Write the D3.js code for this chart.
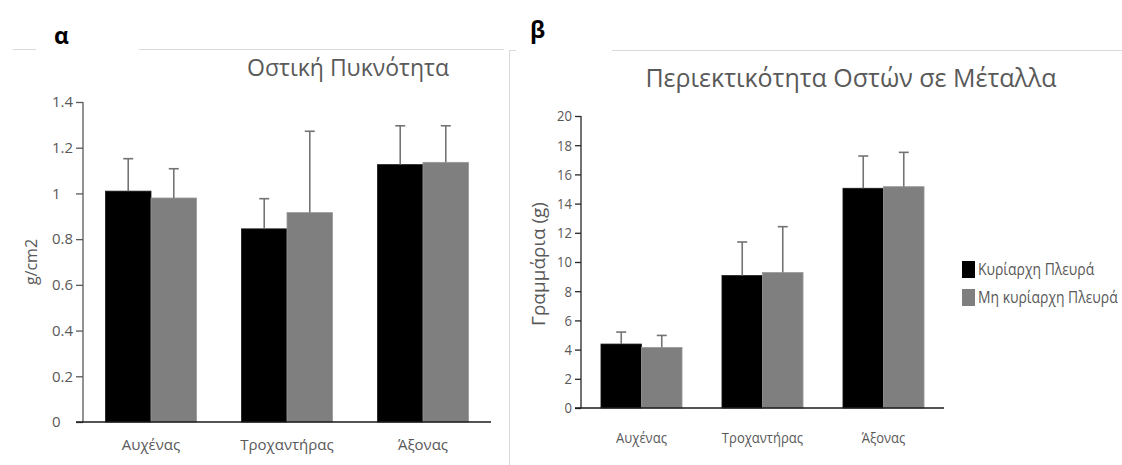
<!DOCTYPE html>
<html>
<head>
<meta charset="utf-8">
<script src="https://cdn.jsdelivr.net/npm/d3@7"></script>
<style>
  html, body { margin: 0; padding: 0; background: #fff; }
  svg { display: block; }
  text { font-family: "Open Sans", "DejaVu Sans", sans-serif; }
</style>
</head>
<body>
<svg id="chart" width="1122" height="465"></svg>
<script>
// Categories and series
const categories = ["Αυχένας", "Τροχαντήρας", "Άξονας"];
const seriesNames = ["Κυρίαρχη Πλευρά", "Μη κυρίαρχη Πλευρά"];

// Bone density (g/cm2): mean and upper error
const densityDominant = [1.01, 0.845, 1.126];
const densityDominantErr = [0.142, 0.132, 0.170];
const densityNonDominant = [0.98, 0.916, 1.136];
const densityNonDominantErr = [0.128, 0.356, 0.160];
const densityTicks = [0, 0.2, 0.4, 0.6, 0.8, 1, 1.2, 1.4];

// Bone mineral content (g): mean and upper error
const mineralDominant = [4.38, 9.07, 15.05];
const mineralDominantErr = [0.82, 2.30, 2.21];
const mineralNonDominant = [4.15, 9.28, 15.16];
const mineralNonDominantErr = [0.82, 3.14, 2.35];
const mineralTicks = [0, 2, 4, 6, 8, 10, 12, 14, 16, 18, 20];

const colors = ["#000000", "#7f7f7f"];
const textColor = "#595959";
const svg = d3.select("#chart");

// Panel frames and panel letters
const frame = svg.append("g").attr("stroke", "#d9d9d9").attr("stroke-width", 1).attr("fill", "none");
frame.append("line").attr("x1", 13).attr("x2", 36).attr("y1", 49.5).attr("y2", 49.5);
frame.append("line").attr("x1", 139).attr("x2", 504).attr("y1", 49.5).attr("y2", 49.5);
frame.append("line").attr("x1", 509.5).attr("x2", 509.5).attr("y1", 50).attr("y2", 465);
frame.append("line").attr("x1", 509).attr("x2", 516).attr("y1", 50.5).attr("y2", 50.5);
frame.append("line").attr("x1", 612).attr("x2", 1122).attr("y1", 50.5).attr("y2", 50.5);

svg.append("text").attr("x", 54).attr("y", 44).attr("font-size", 23).attr("font-weight", "bold")
  .attr("fill", "#000").text("α");
svg.append("text").attr("x", 530).attr("y", 38).attr("font-size", 23).attr("font-weight", "bold")
  .attr("fill", "#000").text("β");

function drawPanel(cfg) {
  const g = svg.append("g");
  const sx = cfg.squeeze; // horizontal squeeze of the panel's small text
  const y = d3.scaleLinear().domain(cfg.domain).range([cfg.y0, cfg.y1]);
  const x = d3.scaleBand().domain(categories).range([cfg.x0, cfg.x1])
    .paddingInner(0.33).paddingOuter(0.165);
  const xs = d3.scaleBand().domain([0, 1]).range([0, x.bandwidth()]);

  // Bars
  const series = [
    { vals: cfg.a, errs: cfg.aErr },
    { vals: cfg.b, errs: cfg.bErr }
  ];
  series.forEach((s, si) => {
    const data = categories.map((c, i) => ({ c, v: s.vals[i], e: s.errs[i] }));
    g.append("g").selectAll("rect").data(data).join("rect")
      .attr("x", d => x(d.c) + xs(si))
      .attr("width", xs.bandwidth())
      .attr("y", d => y(d.v))
      .attr("height", d => y(0) - y(d.v))
      .attr("fill", colors[si])
      .attr("stroke", si === 0 ? "#1a1a1a" : "#9a9a9a")
      .attr("stroke-width", 0.8);
    // Upper error bars
    const eb = g.append("g").attr("stroke", "#737373").attr("stroke-width", 1.6);
    eb.selectAll("line.v").data(data).join("line").attr("class", "v")
      .attr("x1", d => x(d.c) + xs(si) + xs.bandwidth() / 2)
      .attr("x2", d => x(d.c) + xs(si) + xs.bandwidth() / 2)
      .attr("y1", d => y(d.v))
      .attr("y2", d => y(d.v + d.e));
    eb.selectAll("line.c").data(data).join("line").attr("class", "c")
      .attr("x1", d => x(d.c) + xs(si) + xs.bandwidth() / 2 - cfg.cap)
      .attr("x2", d => x(d.c) + xs(si) + xs.bandwidth() / 2 + cfg.cap)
      .attr("y1", d => y(d.v + d.e))
      .attr("y2", d => y(d.v + d.e));
  });

  // Y axis
  const yAxis = g.append("g").attr("transform", `translate(${cfg.x0},0)`)
    .call(d3.axisLeft(y).tickValues(cfg.ticks).tickSize(cfg.tickLen).tickPadding(3)
      .tickFormat(d => String(d)));
  yAxis.attr("font-family", null).attr("font-size", null);
  yAxis.select(".domain").attr("stroke", cfg.yAxisColor).attr("stroke-width", 1.3)
    .attr("d", `M0,${cfg.y0}V${cfg.y1}`);
  yAxis.selectAll(".tick line").attr("stroke", cfg.yAxisColor).attr("stroke-width", 1.3);
  const tt = yAxis.selectAll(".tick text").attr("fill", textColor).attr("font-size", cfg.tickFont);
  if (cfg.tickAlignStart) {
    tt.attr("text-anchor", "start").attr("x", cfg.tickTextX / sx);
  } else {
    tt.attr("x", -(cfg.tickLen + 3) / sx);
  }
  tt.attr("transform", `scale(${sx},1)`);

  // X axis baseline
  g.append("line").attr("x1", cfg.x0 - cfg.tickLen).attr("x2", cfg.x1)
    .attr("y1", y(0)).attr("y2", y(0)).attr("stroke", "#1a1a1a").attr("stroke-width", 1.5);

  // Category labels
  g.append("g").selectAll("text").data(categories).join("text")
    .attr("transform", d => `translate(${x(d) + x.bandwidth() / 2},${cfg.catY}) scale(${sx},1)`)
    .attr("text-anchor", "middle")
    .attr("font-size", cfg.catFont)
    .attr("fill", textColor)
    .text(d => d);

  // Y title
  g.append("text")
    .attr("transform", `translate(${cfg.yTitleX},${cfg.yTitleY}) rotate(-90)`)
    .attr("text-anchor", "middle").attr("dominant-baseline", "middle")
    .attr("font-size", cfg.yTitleFont).attr("fill", textColor).text(cfg.yTitle);

  // Chart title
  g.append("text").attr("x", cfg.titleX).attr("y", cfg.titleY)
    .attr("text-anchor", "middle").attr("font-size", cfg.titleFont)
    .attr("fill", textColor).text(cfg.title);
}

drawPanel({
  domain: [0, 1.4], y0: 422, y1: 102, x0: 83, x1: 491, squeeze: 1,
  a: densityDominant, aErr: densityDominantErr,
  b: densityNonDominant, bErr: densityNonDominantErr,
  ticks: densityTicks, tickLen: 7, tickFont: 15, tickAlignStart: true, tickTextX: -31,
  yAxisColor: "#595959", cap: 5,
  catY: 450, catFont: 15,
  yTitle: "g/cm2", yTitleX: 33, yTitleY: 262, yTitleFont: 16,
  title: "Οστική Πυκνότητα", titleX: 348, titleY: 76, titleFont: 23
});

drawPanel({
  domain: [0, 20], y0: 408, y1: 116, x0: 581, x1: 944, squeeze: 0.87,
  a: mineralDominant, aErr: mineralDominantErr,
  b: mineralNonDominant, bErr: mineralNonDominantErr,
  ticks: mineralTicks, tickLen: 6, tickFont: 15, tickAlignStart: false,
  yAxisColor: "#262626", cap: 5,
  catY: 443, catFont: 15,
  yTitle: "Γραμμάρια (g)", yTitleX: 540, yTitleY: 264, yTitleFont: 19,
  title: "Περιεκτικότητα Οστών σε Μέταλλα", titleX: 851, titleY: 87, titleFont: 25
});

// Legend
const legend = svg.append("g").attr("transform", "translate(962,261)");
seriesNames.forEach((name, i) => {
  const row = legend.append("g").attr("transform", `translate(0,${i * 28})`);
  row.append("rect").attr("width", 13).attr("height", 17).attr("fill", colors[i]);
  row.append("text").attr("transform", "translate(16,14) scale(0.87,1)")
    .attr("font-size", 16).attr("fill", textColor).text(name);
});
</script>
</body>
</html>
